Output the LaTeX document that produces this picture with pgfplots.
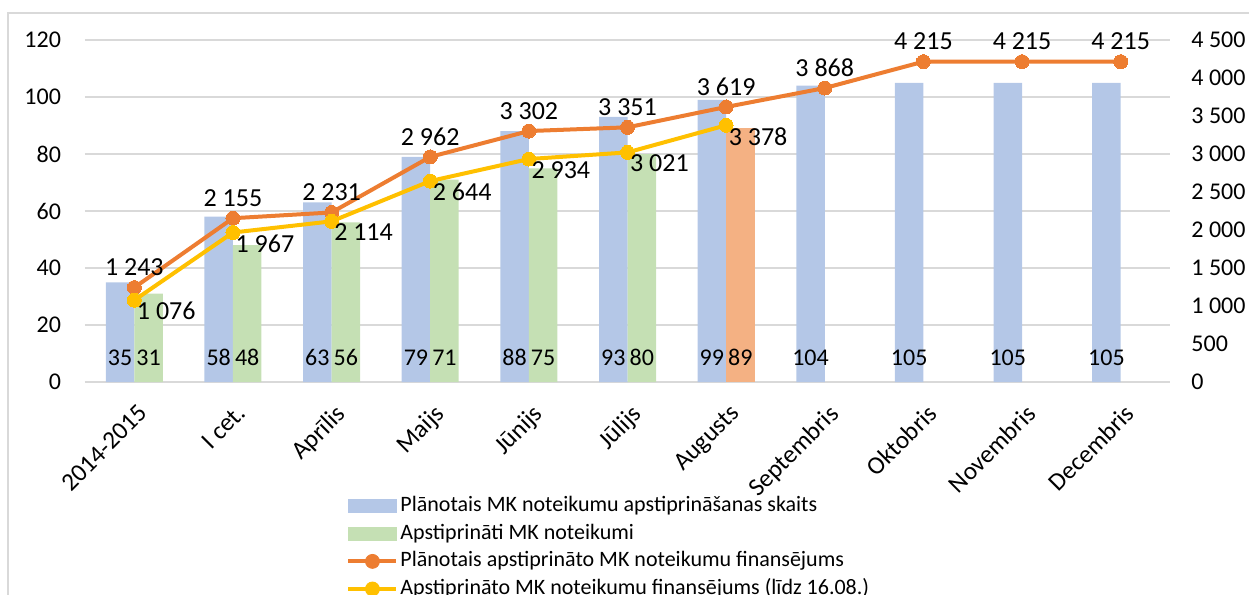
\documentclass[border=0pt]{standalone}
\usepackage{fontspec}
\setmainfont{Carlito}
\usepackage{pgfplots}
\pgfplotsset{compat=1.18}
\definecolor{cblue}{HTML}{B4C7E7}
\definecolor{cgreen}{HTML}{C5E0B4}
\definecolor{corangebar}{HTML}{F4B183}
\definecolor{corange}{HTML}{ED7D31}
\definecolor{cyellow}{HTML}{FFC000}
\definecolor{gridc}{HTML}{D9D9D9}
\begin{document}
\begin{tikzpicture}[font=\fontsize{12}{14}\selectfont]
\useasboundingbox (-42.5pt,-106.5pt) rectangle (582pt,191pt);
\draw[gridc, line width=0.75pt] (-38.5pt,-130pt) -- (-38.5pt,184.5pt) -- (600pt,184.5pt);
\pgfplotsset{
  base/.style={
    scale only axis, width=542.5pt, height=171pt,
    xmin=-0.5, xmax=10.5, clip=false,
    /pgf/number format/.cd, 1000 sep={\ }, assume math mode=true, /pgfplots/.cd,
    scaled y ticks=false,
    tick style={draw=none},
    axis line style={draw=none},
    tick label style={font=\fontsize{12}{14}\selectfont, text=black},
  }
}
\begin{axis}[base,
  ymin=0, ymax=120, ytick={0,20,...,120},
  ymajorgrids, grid style={gridc, line width=0.75pt},
  xtick={0,...,10},
  xticklabels={2014-2015, I cet., Aprīlis, Maijs, Jūnijs, Jūlijs, Augusts, Septembris, Oktobris, Novembris, Decembris},
  xticklabel style={rotate=45, anchor=north east, xshift=-3pt, yshift=-5pt, font=\fontsize{12.6}{14}\selectfont},
  yticklabel style={xshift=-8.5pt},
]
\addplot[ybar, bar width=14.25pt, bar shift=-7.125pt, fill=cblue, draw=none] coordinates {
 (0,35) (1,58) (2,63) (3,79) (4,88) (5,93) (6,99) (7,104) (8,105) (9,105) (10,105)};
\addplot[ybar, bar width=14.25pt, bar shift=7.125pt, fill=cgreen, draw=none] coordinates {
 (0,31) (1,48) (2,56) (3,71) (4,75) (5,80)};
\addplot[ybar, bar width=14.25pt, bar shift=7.125pt, fill=corangebar, draw=none] coordinates {(6,89)};
% bar value labels
\addplot[draw=none, mark=none, nodes near coords, point meta=explicit,
  every node near coord/.append style={text=black, font=\fontsize{12}{14}\selectfont, xshift=-7.125pt, yshift=4.5pt}]
 table[meta=m] {
x y m
0 0 35
1 0 58
2 0 63
3 0 79
4 0 88
5 0 93
6 0 99
7 0 104
8 0 105
9 0 105
10 0 105
};
\addplot[draw=none, mark=none, nodes near coords, point meta=explicit,
  every node near coord/.append style={text=black, font=\fontsize{12}{14}\selectfont, xshift=7.125pt, yshift=4.5pt}]
 table[meta=m] {
x y m
0 0 31
1 0 48
2 0 56
3 0 71
4 0 75
5 0 80
6 0 89
};
\end{axis}
\begin{axis}[base,
  ymin=0, ymax=4500, ytick={0,500,...,4500},
  axis y line*=right, hide x axis,
  yticklabel style={xshift=7.2pt},
  legend style={at={(axis description cs:0.2406,-0.3216)}, anchor=north west,
    draw=none, fill=none, inner sep=0pt, row sep=0pt,
    font=\fontsize{11}{13}\selectfont,
    nodes={inner sep=1pt, text height=8.6pt, text depth=3.2pt}, cells={anchor=west}},
]
\addlegendimage{legend image code/.code={\fill[cblue] (0pt,-3.25pt) rectangle (24pt,3.25pt);}}
\addlegendentry{Plānotais MK noteikumu apstiprināšanas skaits}
\addlegendimage{legend image code/.code={\fill[cgreen] (0pt,-3.25pt) rectangle (24pt,3.25pt);}}
\addlegendentry{Apstiprināti MK noteikumi}
\addlegendimage{legend image code/.code={\draw[corange, line width=2pt] (0pt,0pt) -- (24pt,0pt); \fill[corange] (12pt,0pt) circle (3.5pt);}}
\addlegendentry{Plānotais apstiprināto MK noteikumu finansējums}
\addlegendimage{legend image code/.code={\draw[cyellow, line width=2pt] (0pt,0pt) -- (24pt,0pt); \fill[cyellow] (12pt,0pt) circle (3.5pt);}}
\addlegendentry{Apstiprināto MK noteikumu finansējums (līdz 16.08.)}
\addplot[forget plot, color=corange, line width=2pt, mark=*, mark size=3.5pt,
  mark options={fill=corange, draw=corange, line width=0pt},
  nodes near coords, point meta=y,
  every node near coord/.append style={text=black, font=\fontsize{13}{15}\selectfont, yshift=2.5pt}]
 coordinates {(0,1243) (1,2155) (2,2231) (3,2962) (4,3302) (5,3351) (6,3619) (7,3868) (8,4215) (9,4215) (10,4215)};
\addplot[forget plot, color=cyellow, line width=2pt, mark=*, mark size=3.5pt,
  mark options={fill=cyellow, draw=cyellow, line width=0pt},
  nodes near coords, point meta=y, nodes near coords align=horizontal,
  every node near coord/.append style={text=black, font=\fontsize{13}{15}\selectfont, xshift=-2pt, yshift=-5.5pt}]
 coordinates {(0,1076) (1,1967) (2,2114) (3,2644) (4,2934) (5,3021) (6,3378)};
\end{axis}
\end{tikzpicture}
\end{document}
